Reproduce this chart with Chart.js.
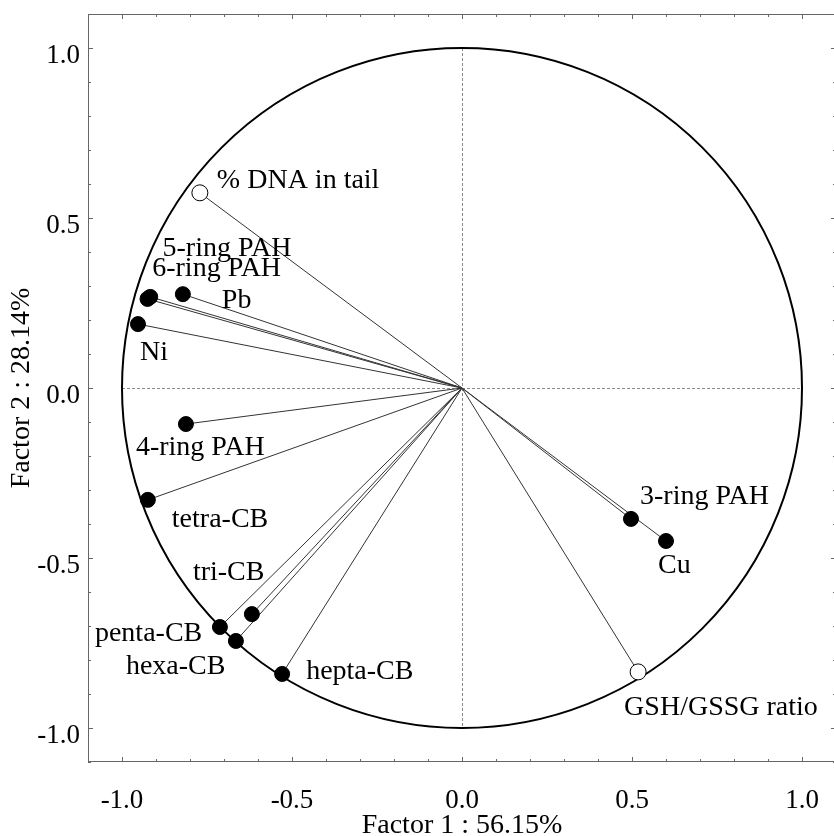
<!DOCTYPE html>
<html lang="en">
<head>
<meta charset="UTF-8" />
<title>Factor loadings</title>
<style>
  html, body { margin: 0; padding: 0; background: #fff; overflow: hidden; }
  #wrap { width: 836px; height: 836px; }
</style>
</head>
<body>
<div id="wrap"><canvas id="chart" width="836" height="836"></canvas></div>
<script src="https://cdn.jsdelivr.net/npm/chart.js"></script>
<script>
// variables and their loadings on factor 1 / factor 2
const variables = ['% DNA in tail', '5-ring PAH', '6-ring PAH', 'Pb', 'Ni', '4-ring PAH', 'tetra-CB',
  'tri-CB', 'penta-CB', 'hexa-CB', 'hepta-CB', '3-ring PAH', 'Cu', 'GSH/GSSG ratio'];
const factor1 = [-0.771, -0.925, -0.917, -0.821, -0.953, -0.812, -0.924,
  -0.618, -0.712, -0.665, -0.529, 0.497, 0.600, 0.518];
const factor2 = [0.574, 0.262, 0.268, 0.276, 0.188, -0.106, -0.329,
  -0.665, -0.703, -0.744, -0.841, -0.385, -0.450, -0.835];
// supplementary variables are drawn as open circles
const supplementary = [true, false, false, false, false, false, false,
  false, false, false, false, false, false, true];
const tickValues = [-1.0, -0.5, 0.0, 0.5, 1.0];

// where each name sits relative to its point (px)
const labelShift = [[17, -12], [15, -50], [2, -28], [39, 6], [2, 29], [-50, 24], [24, 20],
  [-59, -41], [-125, 7], [-110, 26], [24, -2], [9, -22], [-8, 25], [-14, 36]];

const serif = 'Liberation Serif, Times New Roman, serif';

const rays = variables.map((name, i) => ({
  type: 'line',
  label: name,
  data: [{ x: 0, y: 0 }, { x: factor1[i], y: factor2[i] }],
  borderColor: '#333',
  borderWidth: 1,
  pointRadius: 0,
  fill: false,
  order: 2
}));

const points = {
  type: 'scatter',
  label: 'variables',
  data: variables.map((n, i) => ({ x: factor1[i], y: factor2[i] })),
  pointRadius: ctx => supplementary[ctx.dataIndex] ? 8 : 7.5,
  pointBackgroundColor: ctx => supplementary[ctx.dataIndex] ? '#fff' : '#000',
  pointBorderColor: '#000',
  pointBorderWidth: 1,
  order: 0
};

// frame with inward ticks, dotted zero lines and the unit circle
const framePlugin = {
  id: 'frame',
  beforeDatasetsDraw(chart) {
    const { ctx, chartArea: a, scales: { x, y } } = chart;
    ctx.save();
    ctx.strokeStyle = '#666';
    ctx.lineWidth = 1;
    ctx.strokeRect(a.left + 0.5, a.top + 0.5, a.right - a.left - 1, a.bottom - a.top - 1);
    ctx.beginPath();
    for (let i = -11; i <= 11; i++) {
      const len = i % 5 === 0 ? 5 : 3;
      const px = Math.round(x.getPixelForValue(i / 10)) + 0.5;
      const py = Math.round(y.getPixelForValue(i / 10)) + 0.5;
      ctx.moveTo(px, a.bottom); ctx.lineTo(px, a.bottom - len);
      ctx.moveTo(px, a.top); ctx.lineTo(px, a.top + len);
      ctx.moveTo(a.left, py); ctx.lineTo(a.left + len, py);
      ctx.moveTo(a.right, py); ctx.lineTo(a.right - len, py);
    }
    ctx.stroke();

    const cx = x.getPixelForValue(0), cy = y.getPixelForValue(0);
    ctx.strokeStyle = '#888';
    ctx.setLineDash([3, 2]);
    ctx.beginPath();
    ctx.moveTo(x.getPixelForValue(-1), Math.round(cy) + 0.5);
    ctx.lineTo(x.getPixelForValue(1), Math.round(cy) + 0.5);
    ctx.moveTo(Math.round(cx) + 0.5, y.getPixelForValue(1));
    ctx.lineTo(Math.round(cx) + 0.5, y.getPixelForValue(-1));
    ctx.stroke();
    ctx.setLineDash([]);

    ctx.strokeStyle = '#000';
    ctx.lineWidth = 2;
    ctx.beginPath();
    ctx.ellipse(cx, cy, x.getPixelForValue(1) - cx, cy - y.getPixelForValue(1), 0, 0, Math.PI * 2);
    ctx.stroke();
    ctx.restore();
  },
  afterDatasetsDraw(chart) {
    const { ctx, scales: { x, y } } = chart;
    ctx.save();
    ctx.font = '28px ' + serif;
    ctx.fillStyle = '#000';
    ctx.textAlign = 'left';
    ctx.textBaseline = 'middle';
    variables.forEach((name, i) => {
      const px = x.getPixelForValue(factor1[i]) + labelShift[i][0];
      const py = y.getPixelForValue(factor2[i]) + labelShift[i][1];
      ctx.fillText(name, px, py);
    });
    ctx.restore();
  }
};

new Chart(document.getElementById('chart'), {
  type: 'scatter',
  data: { datasets: [points, ...rays] },
  options: {
    responsive: false,
    animation: false,
    layout: { autoPadding: false, padding: { top: 14, right: 0, left: 0, bottom: 0 } },
    plugins: { legend: { display: false }, tooltip: { enabled: false } },
    scales: {
      x: {
        type: 'linear',
        min: -1.1,
        max: 1.1,
        afterBuildTicks: s => { s.ticks = tickValues.map(v => ({ value: v })); },
        afterFit: s => { s.height = 74; s.paddingLeft = 0; s.paddingRight = 0; },
        grid: { display: false, drawTicks: false },
        border: { display: false },
        ticks: {
          font: { family: serif, size: 27 },
          color: '#000',
          padding: 23,
          maxRotation: 0,
          autoSkip: false,
          callback: v => v.toFixed(1)
        },
        title: {
          display: true,
          text: 'Factor 1 : 56.15%',
          font: { family: serif, size: 28, lineHeight: 1 },
          color: '#000',
          padding: { top: 0, bottom: -4 }
        }
      },
      y: {
        type: 'linear',
        min: -1.1,
        max: 1.1,
        afterBuildTicks: s => { s.ticks = tickValues.map(v => ({ value: v })); },
        afterFit: s => { s.width = 88; s.paddingTop = 0; s.paddingBottom = 0; },
        grid: { display: false, drawTicks: false },
        border: { display: false },
        ticks: {
          font: { family: serif, size: 27 },
          color: '#000',
          padding: 8,
          labelOffset: 8,
          autoSkip: false,
          callback: v => v.toFixed(1)
        },
        title: {
          display: true,
          text: 'Factor 2 : 28.14%',
          font: { family: serif, size: 28, lineHeight: 1 },
          color: '#000',
          padding: { top: 8, bottom: 0 }
        }
      }
    }
  },
  plugins: [framePlugin]
});
</script>
</body>
</html>
